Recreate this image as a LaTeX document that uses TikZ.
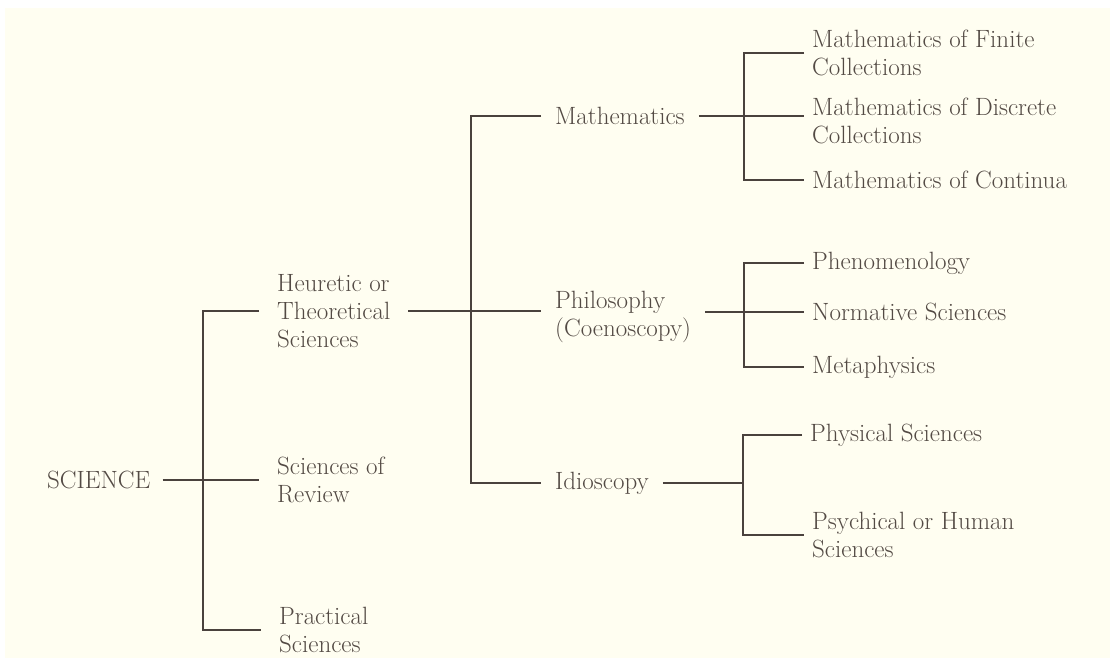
\documentclass[tikz,border=0pt]{standalone}
\usepackage{xcolor}
\usepackage{tikz}
\usetikzlibrary{calc}
\definecolor{paper}{HTML}{FFFEF1}
\definecolor{ink}{HTML}{534A44}
\definecolor{rulecol}{HTML}{4A423D}
\pgfkeys{tikz/treeenv/.style={x=1pt,y=-1pt}}
\pgfkeys{tikz/treetext/.style={anchor=west,align=left,text=ink,inner ysep=0pt,font=\fontsize{25}{28}\selectfont}}
\pgfkeys{tikz/rootbox/.style={treetext,inner xsep=12pt}}
\pgfkeys{tikz/branchbox/.style={treetext,inner xsep=18pt}}
\pgfkeys{tikz/subbox/.style={treetext,inner xsep=14pt}}
\pgfkeys{tikz/leafbox/.style={treetext,inner xsep=8pt}}
\pgfkeys{tikz/treeline/.style={draw=rulecol,line width=1.5pt}}
\newcommand*\treebracket[3]{
    \draw[treeline] (#1.west) -| (#2) |- (#3.west);
}

\begin{document}
\begin{tikzpicture}[treeenv]
    \fill[white] (0,0) rectangle (1110,658);
    \fill[paper] (5,8) rectangle (1110,658);
    \useasboundingbox (0,0) rectangle (1110,658);
    % root and first level
    \node[rootbox] (sci) at (35,480) {SCIENCE};
    \node[branchbox] (heur) at (259,311) {Heuretic or\\Theoretical\\Sciences};
    \node[branchbox] (rev) at (259,480) {Sciences of\\Review};
    \node[branchbox] (prac) at (261,630) {Practical\\Sciences};
    % second level
    \node[subbox] (math) at (541,116) {Mathematics};
    \node[subbox] (phil) at (541,317) {Philosophy\\(Coenoscopy)};
    \node[subbox] (idio) at (541,483) {Idioscopy};
    % leaves
    \node[leafbox] (mfin) at (804,53) {Mathematics of Finite\\Collections};
    \node[leafbox] (mdis) at (804,121) {Mathematics of Discrete\\Collections};
    \node[leafbox] (mcon) at (804,180) {Mathematics of Continua};
    \node[leafbox] (phen) at (804,263) {Phenomenology};
    \node[leafbox] (norm) at (804,312) {Normative Sciences};
    \node[leafbox] (meta) at (804,367) {Metaphysics};
    \node[leafbox] (phys) at (802,435) {Physical Sciences};
    \node[leafbox] (psych) at (804,535) {Psychical or Human\\Sciences};
    % junctions
    \coordinate (jsci) at (203,480);
    \coordinate (jheur) at (471,311);
    \coordinate (jmath) at (744,116);
    \coordinate (jphil) at (744,312);
    \coordinate (jidio) at (743,483);
    % connectors
    \draw[treeline] (sci.east) -- (rev.west);
    \treebracket{heur}{jsci}{prac}
    \draw[treeline] (heur.east) -- (heur.east -| phil.west);
    \treebracket{math}{jheur}{idio}
    \draw[treeline] (math.east) -- (math.east -| mdis.west);
    \treebracket{mfin}{jmath}{mcon}
    \draw[treeline] (phil.east |- norm.west) -- (norm.west);
    \treebracket{phen}{jphil}{meta}
    \draw[treeline] (idio.east) -- (jidio);
    \treebracket{phys}{jidio}{psych}
\end{tikzpicture}
\end{document}
